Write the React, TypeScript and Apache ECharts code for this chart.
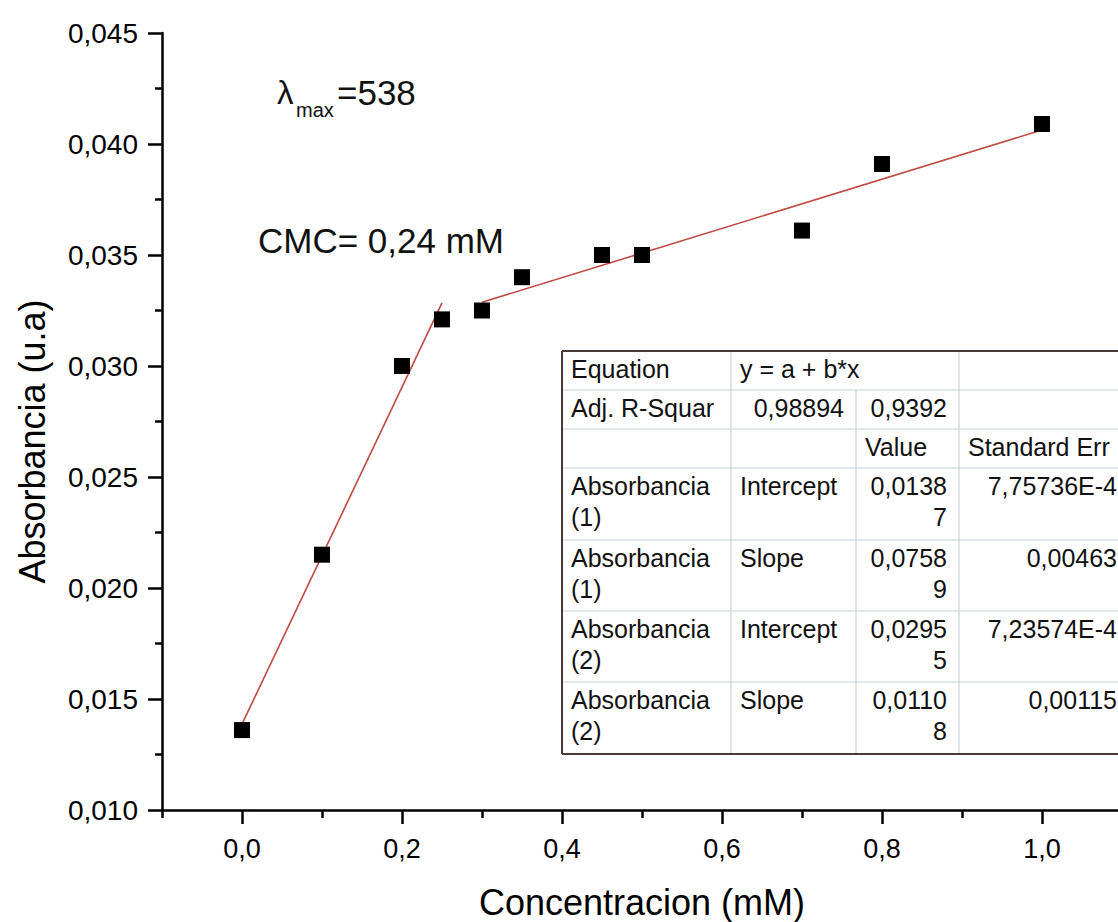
import React, { useEffect, useRef } from "react";
import * as echarts from "echarts";

// ---- data ----
const CONC = [0, 0.1, 0.2, 0.25, 0.3, 0.35, 0.45, 0.5, 0.7, 0.8, 1.0];
const ABS = [0.0136, 0.0215, 0.03, 0.0321, 0.0325, 0.034, 0.035, 0.035, 0.0361, 0.0391, 0.0409];
const FIT1_X = [0, 0.25];
const FIT1_Y = [0.01387, 0.03284];
const FIT2_X = [0.3, 1.0];
const FIT2_Y = [0.03287, 0.04063];

const X_RANGE = [-0.1, 1.1];
const Y_RANGE = [0.01, 0.045];
const Y_STEP = 0.005;
const X_MAJOR_TICKS = [0, 0.2, 0.4, 0.6, 0.8, 1.0];
const X_MINOR_TICKS = [-0.1, 0.1, 0.3, 0.5, 0.7, 0.9, 1.1];

const X_TITLE = "Concentracion (mM)";
const Y_TITLE = "Absorbancia (u.a)";
const CMC_TEXT = "CMC= 0,24 mM";
const LAMBDA_VALUE = "=538";

const TABLE_ROWS = [
  ["Equation", "y = a + b*x", "", ""],
  ["Adj. R-Squar", "0,98894", "0,9392", ""],
  ["", "", "Value", "Standard Err"],
  ["Absorbancia\n(1)", "Intercept", "0,0138\n7", "7,75736E-4"],
  ["Absorbancia\n(1)", "Slope", "0,0758\n9", "0,00463"],
  ["Absorbancia\n(2)", "Intercept", "0,0295\n5", "7,23574E-4"],
  ["Absorbancia\n(2)", "Slope", "0,0110\n8", "0,00115"],
];

// ---- layout / style ----
const FONT = "'Liberation Sans', Arial, Helvetica, sans-serif";
const TCOL = [562, 731, 856, 959, 1129];
const TROW = [351, 390, 429, 468, 540, 611, 682, 754];
const FIT_COLOR = "#bf4a42";

function buildTable(): any[] {
  const els: any[] = [];
  const inner = { stroke: "#c8d2da", lineWidth: 1.2 };
  const outer = { stroke: "#4a3a37", lineWidth: 2 };
  for (let r = 1; r < TROW.length - 1; r++) {
    els.push({ type: "line", shape: { x1: TCOL[0], y1: TROW[r], x2: TCOL[4] + 10, y2: TROW[r] }, style: inner, z: 10 });
  }
  for (let c = 1; c < TCOL.length; c++) {
    const yStart = c === 2 ? TROW[1] : TROW[0];
    els.push({ type: "line", shape: { x1: TCOL[c], y1: yStart, x2: TCOL[c], y2: TROW[TROW.length - 1] }, style: inner, z: 10 });
  }
  els.push({ type: "line", shape: { x1: TCOL[0], y1: TROW[0], x2: TCOL[4] + 10, y2: TROW[0] }, style: outer, z: 11 });
  els.push({ type: "line", shape: { x1: TCOL[0], y1: TROW[0], x2: TCOL[0], y2: TROW[TROW.length - 1] }, style: outer, z: 11 });
  els.push({ type: "line", shape: { x1: TCOL[0], y1: TROW[TROW.length - 1], x2: TCOL[4] + 10, y2: TROW[TROW.length - 1] }, style: outer, z: 11 });
  TABLE_ROWS.forEach((row, r) => {
    row.forEach((txt, c) => {
      if (!txt) return;
      const right = /^[0-9]/.test(txt);
      els.push({
        type: "text",
        x: right ? TCOL[c + 1] - 12 : TCOL[c] + 9,
        y: TROW[r] + 2,
        z: 12,
        style: {
          text: txt,
          fill: "#111",
          fontSize: 25,
          fontFamily: FONT,
          lineHeight: 31,
          align: right ? "right" : "left",
          verticalAlign: "top",
        },
      });
    });
  });
  return els;
}

export default function App() {
  const ref = useRef<HTMLDivElement>(null);
  useEffect(() => {
    if (!ref.current) return;
    const chart = echarts.init(ref.current, null, { renderer: "svg" });
    const fmtX = (v: number) => v.toFixed(1).replace(".", ",");
    const fmtY = (v: number) => v.toFixed(3).replace(".", ",");
    const axisLineStyle = { color: "#000", width: 2.5 };
    const option: any = {
      animation: false,
      backgroundColor: "#fff",
      textStyle: { fontFamily: FONT },
      grid: { left: 162, top: 33, bottom: 112, right: -4, containLabel: false, outerBoundsMode: "none" },
      xAxis: [
        {
          type: "value",
          min: X_RANGE[0],
          max: X_RANGE[1],
          position: "bottom",
          axisLine: { show: true, onZero: false, lineStyle: axisLineStyle },
          axisTick: { show: true, customValues: X_MAJOR_TICKS, length: 14, lineStyle: axisLineStyle },
          axisLabel: { show: true, customValues: X_MAJOR_TICKS, formatter: fmtX, fontSize: 27, color: "#000", margin: 25, fontFamily: FONT },
          splitLine: { show: false },
          name: X_TITLE,
          nameLocation: "middle",
          nameGap: 74,
          nameTextStyle: { fontSize: 36, color: "#000", fontFamily: FONT },
        },
        {
          type: "value",
          min: X_RANGE[0],
          max: X_RANGE[1],
          position: "bottom",
          axisLine: { show: false, onZero: false },
          axisTick: { show: true, customValues: X_MINOR_TICKS, length: 8, lineStyle: axisLineStyle },
          axisLabel: { show: false },
          splitLine: { show: false },
        },
      ],
      yAxis: {
        type: "value",
        min: Y_RANGE[0],
        max: Y_RANGE[1],
        interval: Y_STEP,
        axisLine: { show: true, onZero: false, lineStyle: axisLineStyle },
        axisTick: { show: true, length: 14, lineStyle: axisLineStyle },
        minorTick: { show: true, splitNumber: 2, length: 7, lineStyle: axisLineStyle },
        axisLabel: { formatter: fmtY, fontSize: 28, color: "#000", margin: 24, fontFamily: FONT },
        splitLine: { show: false },
        minorSplitLine: { show: false },
        name: Y_TITLE,
        nameLocation: "middle",
        nameGap: 112,
        nameTextStyle: { fontSize: 36, color: "#000", fontFamily: FONT, padding: [0, 40, 0, 0] },
      },
      series: [
        {
          type: "line",
          xAxisIndex: 0,
          data: FIT1_X.map((x, i) => [x, FIT1_Y[i]]),
          showSymbol: false,
          lineStyle: { color: FIT_COLOR, width: 1.6 },
          z: 2,
        },
        {
          type: "line",
          xAxisIndex: 0,
          data: FIT2_X.map((x, i) => [x, FIT2_Y[i]]),
          showSymbol: false,
          lineStyle: { color: FIT_COLOR, width: 1.6 },
          z: 2,
        },
        {
          type: "scatter",
          xAxisIndex: 0,
          data: CONC.map((x, i) => [x, ABS[i]]),
          symbol: "rect",
          symbolSize: 16,
          itemStyle: { color: "#000", opacity: 1 },
          z: 3,
        },
      ],
      graphic: [
        { type: "text", x: 277, y: 92, style: { text: "λ", fontSize: 33, fontFamily: FONT, fill: "#111", verticalAlign: "middle" } },
        { type: "text", x: 296, y: 110, style: { text: "max", fontSize: 20, fontFamily: FONT, fill: "#111", verticalAlign: "middle" } },
        { type: "text", x: 337, y: 92, style: { text: LAMBDA_VALUE, fontSize: 35, fontFamily: FONT, fill: "#111", verticalAlign: "middle" } },
        { type: "text", x: 258, y: 240, style: { text: CMC_TEXT, fontSize: 35, fontFamily: FONT, fill: "#111", verticalAlign: "middle" } },
        ...buildTable(),
      ],
    };
    chart.setOption(option);
    return () => chart.dispose();
  }, []);
  return (
    <div
      ref={ref}
      style={{ position: "fixed", left: 0, top: 0, width: 1118, height: 922, background: "#fff" }}
    />
  );
}
